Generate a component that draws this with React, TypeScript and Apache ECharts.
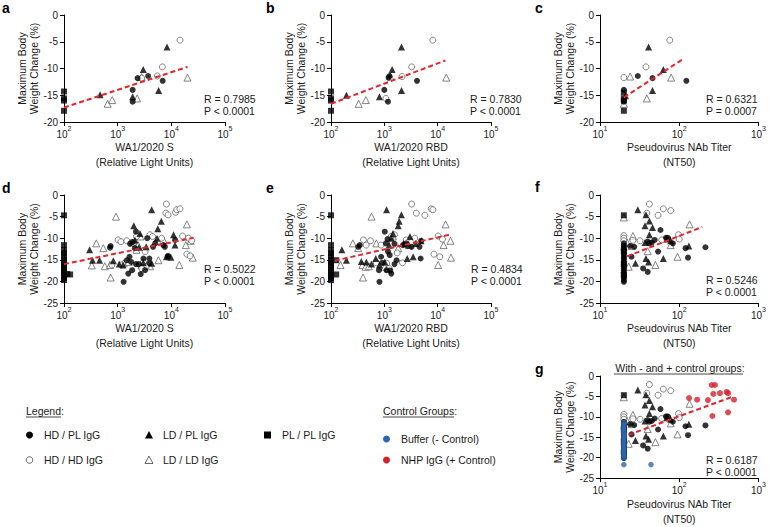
import React, { useEffect, useRef } from "react";
import * as echarts from "echarts";

const FONT = 'Arial, "Liberation Sans", Helvetica, sans-serif';

// ---------- Panel a: WA1/2020 S (RLU) ----------
const A_HDPL = [[1900, -14.0], [1900, -16.2], [2350, -11.8], [3700, -11.4], [6900, -12.3]];
const A_HDHD = [[2800, -11.8], [5500, -11.4], [6800, -9.7], [14500, -4.7]];
const A_LDPL = [[470, -14.9], [1900, -15.3], [3000, -10.2], [5800, -14.1], [8300, -6.0]];
const A_LDLD = [[650, -16.6], [790, -15.9], [2300, -15.6], [2800, -11.6], [20000, -11.7]];
const A_PLPL = [[100, -14.3], [100, -15.6], [100, -16.0], [100, -17.9]];
const A_TREND = [[100, -17.3], [20000, -9.7]];

// ---------- Panel b: WA1/2020 RBD (RLU) ----------
const B_HDPL = [[1000, -14.0], [1170, -16.2], [1200, -11.7], [1250, -11.4], [4100, -12.3]];
const B_HDHD = [[1070, -15.6], [2150, -11.5], [3250, -9.7], [8100, -4.7]];
const B_LDPL = [[195, -15.0], [810, -15.3], [1400, -10.2], [2100, -6.0], [2100, -14.1]];
const B_LDLD = [[330, -16.6], [450, -15.9], [1300, -11.5], [14500, -11.7]];
const B_PLPL = [[100, -14.3], [100, -15.6], [100, -16.0], [100, -17.9]];
const B_TREND = [[100, -16.6], [14000, -8.5]];

// ---------- Panel c: Pseudovirus NAb titer (NT50) ----------
const C_HDPL = [[20, -14.0], [20, -16.2], [30, -11.4], [46, -11.8], [123, -12.3]];
const C_HDHD = [[20, -11.7], [38, -9.7], [76, -4.7]];
const C_LDPL = [[21, -15.1], [41, -6.0], [46, -14.1], [63, -10.2]];
const C_LDLD = [[20, -16.6], [24, -11.5], [39, -15.6], [79, -11.7]];
const C_PLPL = [[20, -14.5], [20, -15.6], [20, -16.0], [20, -17.9]];
const C_TREND = [[20, -15.4], [110, -8.3]];

// ---------- Panel d: WA1/2020 S (RLU), all groups ----------
const D_HDPL = [
  [1290, -20.1], [740, -11.8], [720, -12.2], [1700, -11.3], [1900, -10.9], [2190, -8.5], [2090, -12.3],
  [1660, -14.3], [1780, -15.5], [1860, -17.4], [1580, -18.2], [2190, -16.0], [2450, -16.0], [2690, -18.3],
  [3240, -17.4], [3550, -10.0], [3890, -14.7], [4570, -12.0], [5010, -11.2], [7080, -11.6], [7590, -12.0],
  [8510, -14.3], [8710, -14.1], [11750, -10.4], [3890, -15.8], [3020, -14.7], [1480, -15.1],
];
const D_HDHD = [
  [8100, -2.1], [7900, -4.2], [8700, -4.6], [12000, -4.0], [12600, -3.4], [14500, -3.2], [1020, -10.4],
  [1150, -10.8], [1480, -10.6], [1820, -11.0], [2240, -9.6], [4000, -9.2], [4470, -9.6], [3240, -13.1],
  [3020, -15.5], [3390, -16.6], [2820, -17.0], [6600, -10.0], [16200, -9.5], [20900, -10.0], [24000, -10.6],
  [19500, -13.7], [22400, -14.1], [780, -16.2], [1170, -16.2], [1950, -11.2],
];
const D_LDPL = [
  [300, -12.7], [340, -15.1], [460, -15.1], [830, -15.2], [1070, -16.0], [2000, -7.1], [2500, -12.1],
  [4300, -3.4], [4300, -15.8], [5400, -10.0], [5600, -7.8], [6500, -6.1], [8100, -14.3], [9800, -14.4],
  [11000, -9.2], [11700, -11.6], [1260, -16.2], [3000, -15.7], [3400, -12.0], [2600, -8.9], [2100, -10.4],
];
const D_LDLD = [
  [400, -11.2], [540, -12.3], [330, -16.3], [575, -16.5], [720, -16.2], [740, -19.1], [930, -5.0],
  [1290, -15.8], [2400, -11.6], [2650, -9.6], [5750, -15.1], [7100, -10.4], [14100, -16.2], [19500, -6.8],
  [18600, -11.6], [22900, -10.6], [25100, -14.5], [2240, -12.7], [1600, -15.5], [4000, -16.5], [2800, -16.2],
];
const D_PLPL = [
  [100, -4.7], [100, -11.6], [100, -12.8], [100, -13.5], [100, -14.2], [100, -15.0], [100, -15.6], [100, -16.2],
  [100, -16.8], [100, -17.4], [100, -18.0], [100, -18.6], [100, -19.2], [100, -19.7], [115, -18.3], [130, -18.4],
];
const D_TREND = [[100, -16.0], [26000, -9.9]];

// ---------- Panel e: WA1/2020 RBD (RLU), all groups ----------
const E_HDPL = [
  [810, -20.1], [347, -11.6], [324, -12.0], [870, -14.3], [1020, -8.5], [1070, -11.2], [1150, -10.2],
  [1170, -13.1], [1260, -13.9], [1290, -17.5], [1350, -18.2], [1100, -17.4], [1550, -11.3], [1550, -16.0],
  [1700, -15.1], [2240, -11.6], [2750, -11.8], [3240, -12.0], [4570, -12.0], [4900, -10.6], [4790, -14.7],
  [910, -15.7], [794, -17.4], [2570, -11.2],
];
const E_HDHD = [
  [3240, -2.1], [3980, -4.2], [5750, -4.7], [7590, -3.2], [8130, -3.4], [407, -10.4], [550, -10.6],
  [457, -11.6], [708, -15.7], [1100, -15.8], [1350, -9.6], [1550, -9.2], [1740, -13.4], [1230, -17.0],
  [2190, -15.7], [3720, -10.0], [8510, -13.7], [10960, -14.3], [10200, -9.5], [12300, -10.2], [870, -11.6],
  [2570, -10.4],
];
const E_LDPL = [
  [160, -12.7], [195, -15.1], [370, -15.4], [460, -15.5], [575, -16.0], [690, -14.7], [810, -16.2],
  [1100, -3.4], [1820, -7.1], [2090, -4.6], [1450, -8.9], [1900, -6.1], [2290, -11.2], [2690, -14.7],
  [3470, -14.3], [3020, -9.6], [3890, -11.2], [4900, -10.6], [1020, -15.5], [1230, -11.6], [1350, -10.0],
];
const E_LDLD = [
  [257, -11.2], [324, -12.3], [151, -16.2], [389, -16.2], [447, -16.6], [513, -16.5], [398, -19.1],
  [575, -5.0], [708, -11.2], [1020, -16.6], [1450, -9.6], [2880, -11.6], [10200, -16.2], [14100, -6.8],
  [12900, -11.6], [17400, -10.6], [17800, -14.5], [1170, -17.0], [1820, -12.3],
];
const E_PLPL = [
  [100, -4.7], [100, -11.6], [100, -12.8], [100, -13.5], [100, -14.2], [100, -15.0], [100, -15.6], [100, -16.2],
  [100, -16.8], [100, -17.4], [100, -18.0], [100, -18.6], [100, -19.2], [100, -19.7], [125, -15.1], [125, -18.4],
];
const E_TREND = [[118, -15.2], [18000, -9.1]];

// ---------- Panel f: NT50, all groups ----------
const F_HDPL = [
  [20, -11.2], [20, -11.7], [20, -12.1], [20, -12.5], [20, -12.9], [20, -13.4], [20, -13.8], [20, -14.3],
  [20, -14.7], [20, -15.2], [20, -15.6], [20, -16.1], [20, -16.5], [20, -17.0], [20, -17.4], [20, -17.9],
  [20, -18.3], [20, -18.8], [20, -19.2], [20, -19.7], [20, -20.1],
  [35, -17.0], [40, -17.8], [25, -14.3], [49, -10.4], [58, -8.1], [54, -13.1], [68, -9.9], [72, -10.0],
  [83, -11.2], [42, -11.2], [40, -10.8], [45, -11.0], [120, -12.3], [129, -14.5], [214, -12.1], [24, -11.8],
  [27, -12.0],
];
const F_HDHD = [
  [20, -9.4], [20, -10.0], [20, -10.6], [42, -2.1], [39, -4.2], [54, -4.7], [63, -3.2], [78, -3.6],
  [32, -10.6], [60, -10.4], [98, -9.2], [100, -10.2], [71, -10.0], [26, -10.5],
];
const F_LDPL = [
  [30, -3.4], [38, -4.6], [42, -6.0], [37, -7.1], [46, -7.5], [42, -9.2], [37, -11.0], [38, -14.7],
  [41, -15.5], [28, -15.8], [63, -14.7], [78, -10.6], [132, -11.8], [70, -10.2], [20, -12.0],
];
const F_LDLD = [
  [20, -5.2], [26, -9.5], [25, -11.8], [23, -16.6], [40, -13.0], [50, -16.2], [78, -11.6], [95, -14.3],
  [135, -6.8], [22, -11.0],
];
const F_PLPL = [[20, -4.7], [20, -13.0], [20, -16.0], [20, -18.5]];
const F_TREND = [[22, -14.2], [195, -7.4]];

// ---------- Panel g: NT50 with control groups ----------
const G_BUFFER = [
  [20, -11.4], [20, -11.9], [20, -12.4], [20, -12.9], [20, -13.3], [20, -13.8], [20, -14.3], [20, -14.8],
  [20, -15.2], [20, -15.7], [20, -16.2], [20, -16.6], [20, -17.1], [20, -17.6], [20, -18.1], [20, -18.5],
  [20, -19.0], [20, -19.5], [20, -20.0], [20, -21.7], [44, -21.7],
];
const G_NHP = [
  [133, -5.4], [168, -5.8], [230, -5.9], [257, -2.2], [282, -2.2], [269, -4.4], [326, -4.2], [396, -3.9],
  [413, -4.2], [491, -5.8], [262, -9.8], [413, -8.9],
];
const G_TREND = [[23, -14.4], [480, -5.0]];

const STATS = [
  ["R = 0.7985", "P < 0.0001"],
  ["R = 0.7830", "P < 0.0001"],
  ["R = 0.6321", "P = 0.0007"],
  ["R = 0.5022", "P < 0.0001"],
  ["R = 0.4834", "P < 0.0001"],
  ["R = 0.5246", "P < 0.0001"],
  ["R = 0.6187", "P < 0.0001"],
];
const PANEL_LETTERS = ["a", "b", "c", "d", "e", "f", "g"];
const X_TITLES = [
  "WA1/2020 S\n(Relative Light Units)",
  "WA1/2020 RBD\n(Relative Light Units)",
  "Pseudovirus NAb Titer\n(NT50)",
  "WA1/2020 S\n(Relative Light Units)",
  "WA1/2020 RBD\n(Relative Light Units)",
  "Pseudovirus NAb Titer\n(NT50)",
  "Pseudovirus NAb Titer\n(NT50)",
];
const Y_TITLE = "Maximum Body\nWeight Change (%)";

// layout
const GRIDS = [
  { left: 64, top: 15, width: 161, height: 107 },
  { left: 331, top: 15, width: 160, height: 107 },
  { left: 600, top: 15, width: 160, height: 107 },
  { left: 64, top: 195, width: 161, height: 108 },
  { left: 331, top: 195, width: 160, height: 108 },
  { left: 600, top: 195, width: 160, height: 108 },
  { left: 600, top: 376, width: 160, height: 108 },
];
const X_RANGES = [[100, 100000], [100, 100000], [10, 1000], [100, 100000], [100, 100000], [10, 1000], [10, 1000]];
const Y_MINS = [-20, -20, -20, -25, -25, -25, -25];
const LETTER_POS = [[2, 8], [266, 8], [535, 8], [2, 188], [266, 188], [535, 187], [535, 369]];
const STAT_POS = [[204, 99], [470, 99], [706, 99], [204, 269], [471, 269], [706, 280], [706, 460]];

const TXT = "#1a1a1a";

const STYLES: Record<string, any> = {
  HDPL: { symbol: "circle", symbolSize: 6, itemStyle: { color: "#000" } },
  HDHD: { symbol: "circle", symbolSize: 6, itemStyle: { color: "#fff", borderColor: "#555", borderWidth: 0.9 } },
  LDPL: { symbol: "triangle", symbolSize: 7, itemStyle: { color: "#000" } },
  LDLD: { symbol: "triangle", symbolSize: 7, itemStyle: { color: "#fff", borderColor: "#555", borderWidth: 0.9 } },
  PLPL: { symbol: "rect", symbolSize: 6, itemStyle: { color: "#000" } },
  BUF: { symbol: "circle", symbolSize: 5.5, itemStyle: { color: "#2c66b2" } },
  NHP: { symbol: "circle", symbolSize: 6, itemStyle: { color: "#d6202a" } },
};

const PANELS: [string, number[][]][][] = [
  [["LDLD", A_LDLD], ["HDHD", A_HDHD], ["LDPL", A_LDPL], ["HDPL", A_HDPL], ["PLPL", A_PLPL]],
  [["LDLD", B_LDLD], ["HDHD", B_HDHD], ["LDPL", B_LDPL], ["HDPL", B_HDPL], ["PLPL", B_PLPL]],
  [["LDLD", C_LDLD], ["HDHD", C_HDHD], ["LDPL", C_LDPL], ["HDPL", C_HDPL], ["PLPL", C_PLPL]],
  [["LDLD", D_LDLD], ["HDHD", D_HDHD], ["LDPL", D_LDPL], ["HDPL", D_HDPL], ["PLPL", D_PLPL]],
  [["LDLD", E_LDLD], ["HDHD", E_HDHD], ["LDPL", E_LDPL], ["HDPL", E_HDPL], ["PLPL", E_PLPL]],
  [["LDLD", F_LDLD], ["HDHD", F_HDHD], ["LDPL", F_LDPL], ["HDPL", F_HDPL], ["PLPL", F_PLPL]],
  [["LDLD", F_LDLD], ["HDHD", F_HDHD], ["LDPL", F_LDPL], ["HDPL", F_HDPL], ["PLPL", F_PLPL], ["BUF", G_BUFFER], ["NHP", G_NHP]],
];
const TRENDS = [A_TREND, B_TREND, C_TREND, D_TREND, E_TREND, F_TREND, G_TREND];

function buildOption() {
  const axisLine = { lineStyle: { color: "#000", width: 1 } };
  const xAxis = GRIDS.map((_, i) => ({
    type: "log",
    logBase: 10,
    gridIndex: i,
    min: X_RANGES[i][0],
    max: X_RANGES[i][1],
    axisLine: { show: true, onZero: false, ...axisLine },
    axisTick: { show: true, length: 4, lineStyle: { color: "#000" } },
    minorTick: { show: false },
    splitLine: { show: false },
    axisLabel: {
      margin: 3,
      color: TXT,
      fontFamily: FONT,
      formatter: (v: number) => `{b|10}{s|${Math.round(Math.log10(v))}}`,
      rich: {
        b: { fontSize: 10, lineHeight: 14, verticalAlign: "bottom", color: TXT, fontFamily: FONT },
        s: { fontSize: 7, lineHeight: 14, verticalAlign: "top", color: TXT, fontFamily: FONT },
      },
    },
    name: X_TITLES[i],
    nameLocation: "middle",
    nameGap: 10,
    nameTextStyle: { fontSize: 10.5, lineHeight: 15, color: TXT, fontFamily: FONT },
  }));
  const yAxis = GRIDS.map((_, i) => ({
    type: "value",
    gridIndex: i,
    min: Y_MINS[i],
    max: 0,
    interval: 5,
    axisLine: { show: true, ...axisLine },
    axisTick: { show: true, length: 4, lineStyle: { color: "#000" } },
    splitLine: { show: false },
    axisLabel: { margin: 6, fontSize: 10, color: TXT, fontFamily: FONT },
    name: Y_TITLE,
    nameLocation: "middle",
    nameGap: 19,
    nameTextStyle: { fontSize: 10.5, lineHeight: 11.5, color: TXT, fontFamily: FONT },
  }));
  const series: any[] = [];
  PANELS.forEach((groups, i) => {
    groups.forEach(([key, data]) => {
      series.push({
        type: "scatter",
        xAxisIndex: i,
        yAxisIndex: i,
        data,
        ...STYLES[key],
        z: 2,
      });
    });
    series.push({
      type: "line",
      xAxisIndex: i,
      yAxisIndex: i,
      data: TRENDS[i],
      symbol: "none",
      lineStyle: { color: "#e3262d", width: 2, type: [5, 3] },
      z: 3,
    });
  });

  const graphic: any[] = [];
  const txt = (x: number, y: number, text: string, extra: any = {}) => ({
    type: "text",
    x,
    y,
    style: { text, fontSize: 10.5, fontFamily: FONT, fill: TXT, align: "left", verticalAlign: "middle", ...extra },
  });
  PANEL_LETTERS.forEach((l, i) => {
    graphic.push(txt(LETTER_POS[i][0], LETTER_POS[i][1], l, { fontSize: 14, fontWeight: "bold", fill: "#000" }));
  });
  STATS.forEach((s, i) => {
    graphic.push(txt(STAT_POS[i][0], STAT_POS[i][1], s[0]));
    graphic.push(txt(STAT_POS[i][0], STAT_POS[i][1] + 12, s[1]));
  });
  // panel g title
  graphic.push(txt(680, 368, "With - and + control groups:", { align: "center" }));
  graphic.push({ type: "line", shape: { x1: 614, y1: 374, x2: 743, y2: 374 }, style: { stroke: TXT, lineWidth: 0.8 } });

  // legend
  graphic.push(txt(26, 411, "Legend:"));
  graphic.push({ type: "line", shape: { x1: 26, y1: 417, x2: 61, y2: 417 }, style: { stroke: TXT, lineWidth: 0.8 } });
  graphic.push(txt(383, 411, "Control Groups:"));
  graphic.push({ type: "line", shape: { x1: 383, y1: 417, x2: 454, y2: 417 }, style: { stroke: TXT, lineWidth: 0.8 } });

  graphic.push({ type: "circle", shape: { cx: 29.5, cy: 435, r: 3.5 }, style: { fill: "#000" } });
  graphic.push(txt(44, 435, "HD / PL IgG"));
  graphic.push({ type: "circle", shape: { cx: 29.5, cy: 460, r: 3.3 }, style: { fill: "#fff", stroke: "#555", lineWidth: 0.9 } });
  graphic.push(txt(44, 460, "HD / HD IgG"));
  graphic.push({ type: "polygon", shape: { points: [[149, 431], [153, 438.5], [145, 438.5]] }, style: { fill: "#000" } });
  graphic.push(txt(163, 435, "LD / PL IgG"));
  graphic.push({ type: "polygon", shape: { points: [[149, 456], [153, 463.5], [145, 463.5]] }, style: { fill: "#fff", stroke: "#555", lineWidth: 0.9 } });
  graphic.push(txt(163, 460, "LD / LD IgG"));
  graphic.push({ type: "rect", shape: { x: 264, y: 431.5, width: 7, height: 7 }, style: { fill: "#000" } });
  graphic.push(txt(282, 435, "PL / PL IgG"));
  graphic.push({ type: "circle", shape: { cx: 386.5, cy: 439, r: 3.5 }, style: { fill: "#2c66b2" } });
  graphic.push(txt(401, 439, "Buffer (- Control)"));
  graphic.push({ type: "circle", shape: { cx: 386.5, cy: 460, r: 3.5 }, style: { fill: "#d6202a" } });
  graphic.push(txt(401, 460, "NHP IgG (+ Control)"));

  return {
    animation: false,
    backgroundColor: "#fff",
    textStyle: { fontFamily: FONT },
    grid: GRIDS.map((g) => ({ ...g, containLabel: false })),
    xAxis,
    yAxis,
    series,
    graphic,
  };
}

export default function App() {
  const ref = useRef<HTMLDivElement>(null);
  useEffect(() => {
    document.body.style.margin = "0";
    if (!ref.current) return;
    const chart = echarts.init(ref.current, undefined, { renderer: "svg" });
    chart.setOption(buildOption() as any);
    return () => chart.dispose();
  }, []);
  return <div ref={ref} style={{ width: 769, height: 527 }} />;
}
